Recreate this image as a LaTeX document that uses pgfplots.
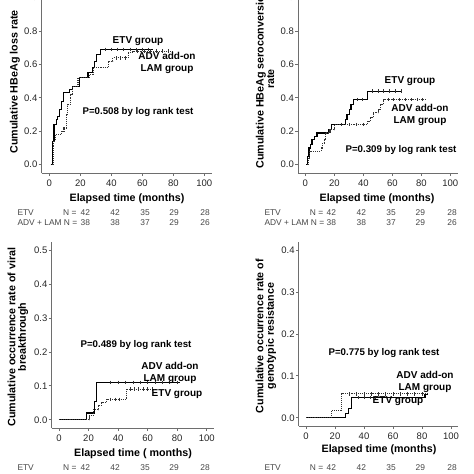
\documentclass[border=0pt]{standalone}
\usepackage{pgfplots}
\pgfplotsset{compat=1.18}
\usepackage{fontspec}
\setmainfont{Liberation Sans}
\definecolor{axgray}{RGB}{110,110,110}
\definecolor{tabgray}{RGB}{70,70,70}
\pgfplotsset{km/.style={
  scale only axis, anchor=south west, clip=false,
  axis x line*=bottom, axis y line*=left,
  axis line style={axgray, line width=0.8pt, -},
  tick style={axgray, line width=0.8pt},
  tick align=outside, major tick length=3pt,
  xmin=-5, xmax=105, xtick={0,20,...,100},
  /pgf/number format/assume math mode=true,
  ticklabel style={font=\fontsize{9.5}{10}\selectfont, text=black!85},
  yticklabel style={inner xsep=1pt, /pgf/number format/.cd, fixed, fixed zerofill, precision=1},
  xticklabel style={/pgf/number format/.cd, fixed, precision=0},
}}
\tikzset{
  etv/.style={const plot, black, line width=1.2pt},
  adv/.style={const plot, black!80, line width=1.1pt, densely dotted},
  cens/.style={only marks, mark=|, mark size=1.8pt, black!80, mark options={line width=0.6pt, solid}},
  lab/.style={font=\fontsize{10}{12}\selectfont\bfseries, align=center, inner sep=0pt},
  axl/.style={font=\fontsize{10.7}{10.5}\selectfont\bfseries, align=center, inner sep=0pt},
  tab/.style={font=\fontsize{8.4}{10}\selectfont, text=tabgray, inner sep=0pt},
}
\begin{document}
\begin{tikzpicture}[x=1pt,y=1pt]
\clip (0,0) rectangle (474,474);
% ---------------- Panel 1 ----------------
\begin{axis}[km, at={(41.55pt,300.95pt)}, width=170.5pt, height=183.7pt,
  ymin=-0.05, ymax=1.05, ytick={0,0.2,...,1.0}]
\addplot[etv] coordinates {(0.8,0) (2,0.14) (3,0.24) (4.5,0.27) (5.5,0.29) (6.5,0.33) (8,0.38) (9,0.43) (13,0.45) (15,0.47) (19.5,0.52) (25,0.55) (28,0.58) (29,0.62) (30.5,0.66) (33,0.69) (67,0.69)};
\addplot[adv] coordinates {(2,0) (2.5,0.14) (4,0.18) (8,0.20) (9.5,0.22) (11,0.30) (12,0.36) (13.5,0.42) (15,0.47) (18.5,0.52) (26,0.54) (28.5,0.58) (38,0.62) (41,0.64) (51,0.67) (54,0.68) (80,0.68)};
\addplot[cens] coordinates {(36,0.69) (40,0.69) (44,0.69) (48,0.69) (52,0.69) (56,0.69) (60,0.69) (64,0.69)};
\addplot[cens] coordinates {(43,0.64) (46,0.64) (49,0.64) (57,0.68) (61,0.68) (65,0.68) (69,0.68) (73,0.68) (77,0.68)};
\end{axis}
\node[lab] at (138,433) {ETV group};
\node[lab] at (167,411) {ADV add-on\\LAM group};
\node[lab, font=\fontsize{9.7}{12}\selectfont\bfseries] at (138,362) {P=0.508 by log rank test};
\node[axl, rotate=90] at (15,392) {Cumulative HBeAg loss rate};
\node[axl] at (127,275) {Elapsed time (months)};
\node[tab, anchor=base west] at (17.3,258) {ETV};
\node[tab, anchor=base west] at (63,258) {N =};
\node[tab, anchor=base west] at (17.3,248) {ADV + LAM N =};
\foreach \x/\a/\b in {85.3/42/38, 115/42/38, 145/35/37, 174/29/29, 205/28/26}{
  \node[tab, anchor=base] at (\x,258) {\a};
  \node[tab, anchor=base] at (\x,248) {\b};
}
% ---------------- Panel 2 ----------------
\begin{axis}[km, at={(298.05pt,300.95pt)}, width=159.5pt, height=183.7pt,
  ymin=-0.05, ymax=1.05, ytick={0,0.2,...,1.0}]
\addplot[etv] coordinates {(0.5,0) (1.6,0.05) (2.5,0.10) (3.5,0.12) (4.6,0.15) (6.2,0.17) (8,0.19) (16,0.21) (18,0.24) (27.5,0.27) (28.7,0.30) (30.3,0.33) (31.5,0.36) (33,0.39) (43,0.44) (67,0.44)};
\addplot[adv] coordinates {(1.5,0) (2,0.04) (3,0.08) (11,0.10) (12,0.13) (13,0.15) (14,0.19) (17,0.21) (20,0.24) (43,0.26) (45,0.28) (47,0.31) (50.5,0.33) (52,0.36) (54,0.39) (83,0.39)};
\addplot[cens] coordinates {(36,0.39) (39,0.39) (46,0.44) (50,0.44) (54,0.44) (58,0.44) (62,0.44) (66,0.44)};
\addplot[cens] coordinates {(25,0.24) (30,0.24) (35,0.24) (40,0.24) (57,0.39) (61,0.39) (65,0.39) (69,0.39) (73,0.39) (77,0.39) (81,0.39)};
\end{axis}
\node[lab] at (410,393) {ETV group};
\node[lab] at (420,359) {ADV add-on\\LAM group};
\node[lab, font=\fontsize{9.7}{12}\selectfont\bfseries] at (401,324) {P=0.309 by log rank test};
\node[axl, rotate=90] at (265,395) {Cumulative HBeAg seroconversion\\rate};
\node[axl] at (377,275) {Elapsed time (months)};
\node[tab, anchor=base west] at (264.3,258) {ETV};
\node[tab, anchor=base west] at (309.7,258) {N =};
\node[tab, anchor=base west] at (264.3,248) {ADV + LAM N =};
\foreach \x/\a/\b in {331.3/42/38, 361.3/42/38, 391/35/37, 420.3/29/29, 452/28/26}{
  \node[tab, anchor=base] at (\x,258) {\a};
  \node[tab, anchor=base] at (\x,248) {\b};
}
% ---------------- Panel 3 ----------------
\begin{axis}[km, at={(51.6pt,45.8pt)}, width=162.5pt, height=186.3pt,
  ymin=-0.025, ymax=0.525, ytick={0,0.1,...,0.5}]
\addplot[etv] coordinates {(0,0) (18.5,0.02) (24,0.055) (25.5,0.11) (82,0.11)};
\addplot[adv] coordinates {(0,0) (20.5,0.012) (23.2,0.029) (26.6,0.043) (29,0.05) (32.3,0.06) (45.4,0.09) (66,0.09)};
\addplot[cens] coordinates {(35,0.11) (40,0.11) (45,0.11) (50,0.11) (55,0.11) (60,0.11) (65,0.11) (70,0.11) (75,0.11) (80,0.11)};
\addplot[cens] coordinates {(35,0.06) (38,0.06) (41,0.06) (48,0.09) (51,0.09) (54,0.09) (57,0.09) (60,0.09) (63,0.09)};
\end{axis}
\node[lab, font=\fontsize{9.7}{12}\selectfont\bfseries] at (136,129) {P=0.489 by log rank test};
\node[lab] at (170,101) {ADV add-on\\LAM group};
\node[lab] at (177,80) {ETV group};
\node[axl, rotate=90] at (18,137) {Cumulative occurrence rate of viral\\breakthrough};
\node[axl] at (133,20) {Elapsed time ( months)};
\node[tab, anchor=base west] at (17.3,3) {ETV};
\node[tab, anchor=base west] at (63,3) {N =};
\foreach \x/\a in {85.3/42, 115/42, 145/35, 174/29, 205/28}{
  \node[tab, anchor=base] at (\x,3) {\a};
}
% ---------------- Panel 4 ----------------
\begin{axis}[km, at={(298.75pt,47.9pt)}, width=159.5pt, height=184.1pt,
  ymin=-0.02, ymax=0.42, ytick={0,0.1,...,0.4}]
\addplot[etv] coordinates {(0,0) (27,0.01) (29.2,0.022) (31.5,0.048) (81,0.048) (82,0.056) (84,0.056)};
\addplot[adv] coordinates {(0,0) (17.7,0.018) (24.6,0.057) (83.5,0.057)};
\addplot[cens] coordinates {(36,0.048) (40,0.048) (44,0.048) (48,0.048)};
\addplot[cens] coordinates {(30,0.057) (35,0.057) (40,0.057) (45,0.057) (50,0.057) (55,0.057) (60,0.057) (65,0.057) (70,0.057) (75,0.057) (80,0.057)};
\end{axis}
\node[lab, font=\fontsize{9.7}{12}\selectfont\bfseries] at (384,121) {P=0.775 by log rank test};
\node[lab] at (425,92) {ADV add-on\\LAM group};
\node[lab] at (398,73) {ETV group};
\node[axl, rotate=90] at (266,138) {Cumulative occurrence rate of\\genotypic resistance};
\node[axl] at (379,24) {Elapsed time (months)};
\node[tab, anchor=base west] at (264.3,3) {ETV};
\node[tab, anchor=base west] at (309.7,3) {N =};
\foreach \x/\a in {331.3/42, 361.3/42, 391/35, 420.3/29, 452/28}{
  \node[tab, anchor=base] at (\x,3) {\a};
}
\end{tikzpicture}
\end{document}
